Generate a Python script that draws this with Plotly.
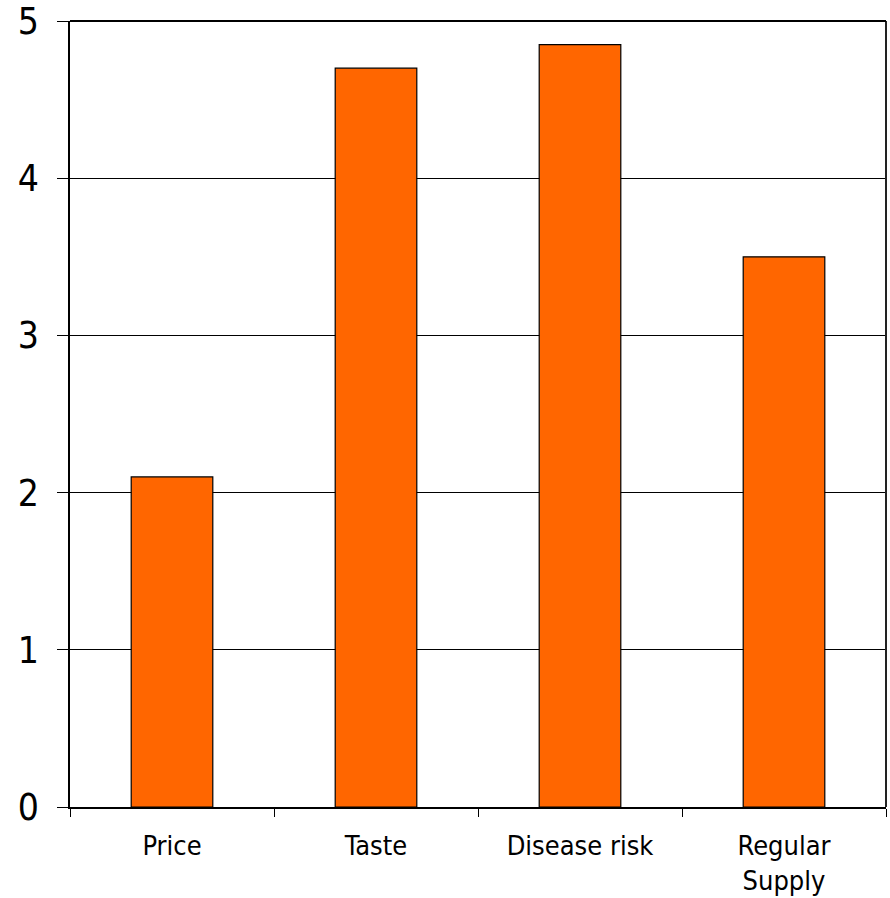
import plotly.graph_objects as go

categories = ["Price", "Taste", "Disease risk", "Regular<br>Supply"]
values = [2.1, 4.7, 4.85, 3.5]
y_ticks = [0, 1, 2, 3, 4, 5]

FONT = "'DejaVu Sans Condensed', Tahoma, Verdana, sans-serif"

fig = go.Figure()
fig.add_trace(go.Bar(
    x=categories,
    y=values,
    marker=dict(color="#FF6600", line=dict(color="#000000", width=1.2)),
    width=0.4,
))

fig.update_layout(
    width=890, height=898,
    margin=dict(l=70, r=4, t=21, b=91, pad=0),
    paper_bgcolor="white",
    plot_bgcolor="white",
    showlegend=False,
    font=dict(family=FONT, color="black"),
    bargap=0.6,
)

fig.update_xaxes(
    type="category",
    automargin=False,
    tickson="boundaries",
    ticks="outside",
    ticklen=8,
    tickwidth=1,
    tickcolor="black",
    showgrid=False,
    showline=True,
    linecolor="black",
    linewidth=1.5,
    mirror=False,
    tickfont=dict(size=27, family=FONT),
    ticklabelstandoff=14,
    ticklabeloverflow="allow",
)

fig.update_yaxes(
    range=[0, 5],
    automargin=False,
    tickvals=y_ticks,
    ticks="outside",
    ticklen=11,
    tickwidth=1,
    tickcolor="black",
    showgrid=True,
    gridcolor="black",
    gridwidth=1,
    showline=True,
    linecolor="black",
    linewidth=1.5,
    zeroline=False,
    tickfont=dict(size=37, family=FONT),
    ticklabelstandoff=11,
    ticklabeloverflow="allow",
)

# right border line
fig.add_shape(type="line", xref="paper", yref="paper", x0=1, x1=1, y0=0, y1=1,
              line=dict(color="#222222", width=2))
# top border (value 5)
fig.add_shape(type="line", xref="paper", yref="paper", x0=0, x1=1, y0=1, y1=1,
              line=dict(color="black", width=2))

fig.write_html("out.html")
